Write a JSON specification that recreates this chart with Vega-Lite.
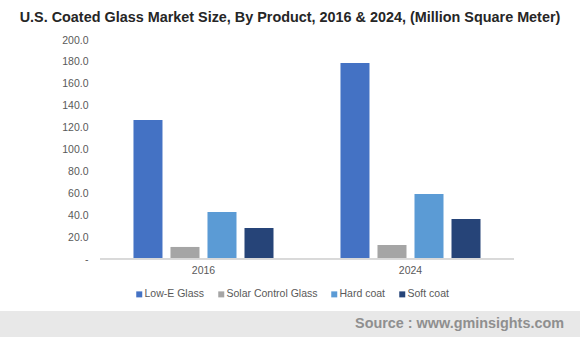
{
  "$schema": "https://vega.github.io/schema/vega-lite/v6.json",
  "padding": {"top": 9, "left": 0, "right": 0, "bottom": 0},
  "background": "white",
  "title": {
    "text": "U.S. Coated Glass Market Size, By Product, 2016 & 2024, (Million Square Meter)",
    "font": "Liberation Sans",
    "fontSize": 14.4,
    "fontWeight": "bold",
    "color": "#262626",
    "anchor": "middle",
    "offset": 10
  },
  "config": {
    "view": {"stroke": null},
    "font": "Liberation Sans"
  },
  "spacing": 11,
  "resolve": {"legend": {"color": "independent"}},
  "vconcat": [
    {
      "width": 514,
      "height": 219,
      "data": {
        "values": [
          {"year": "2016", "product": "Low-E Glass", "value": 127},
          {"year": "2016", "product": "Solar Control Glass", "value": 11},
          {"year": "2016", "product": "Hard coat", "value": 43},
          {"year": "2016", "product": "Soft coat", "value": 28.3},
          {"year": "2024", "product": "Low-E Glass", "value": 179},
          {"year": "2024", "product": "Solar Control Glass", "value": 12.8},
          {"year": "2024", "product": "Hard coat", "value": 59.4},
          {"year": "2024", "product": "Soft coat", "value": 36.5}
        ]
      },
      "layer": [
        {
          "mark": {"type": "bar"},
          "encoding": {
            "x": {
              "field": "year",
              "type": "nominal",
              "scale": {"paddingInner": 0, "paddingOuter": 0.2415, "align": 1},
              "axis": {
                "title": null,
                "labelAngle": 0,
                "labelAlign": "center",
                "bandPosition": 0.5,
                "ticks": false,
                "domain": false,
                "labelColor": "#595959",
                "labelFontSize": 10.5,
                "labelPadding": 6
              }
            },
            "xOffset": {
              "field": "product",
              "type": "nominal",
              "sort": ["Low-E Glass", "Solar Control Glass", "Hard coat", "Soft coat"],
              "scale": {"paddingInner": 0.216, "paddingOuter": 0.905}
            },
            "y": {
              "field": "value",
              "type": "quantitative",
              "scale": {"domain": [0, 200]},
              "axis": {
                "title": null,
                "values": [0, 20, 40, 60, 80, 100, 120, 140, 160, 180, 200],
                "labelExpr": "datum.value == 0 ? '-' : format(datum.value, '.1f')",
                "labelOverlap": false,
                "grid": false,
                "domain": false,
                "ticks": false,
                "offset": -100,
                "labelPadding": 12,
                "labelColor": "#595959",
                "labelFontSize": 10.5
              }
            },
            "color": {
              "field": "product",
              "type": "nominal",
              "sort": ["Low-E Glass", "Solar Control Glass", "Hard coat", "Soft coat"],
              "scale": {
                "domain": ["Low-E Glass", "Solar Control Glass", "Hard coat", "Soft coat"],
                "range": ["#4472C4", "#A5A5A5", "#5B9BD5", "#264478"]
              },
              "legend": {
                "orient": "none",
                "legendX": 134,
                "legendY": 249,
                "direction": "horizontal",
                "title": null,
                "symbolType": "square",
                "symbolSize": 36,
                "symbolStrokeWidth": 0,
                "labelFontSize": 10.5,
                "labelColor": "#595959",
                "columnPadding": 11,
                "labelOffset": 0
              }
            }
          }
        },
        {
          "mark": {"type": "rule", "color": "#d9d9d9", "strokeWidth": 1},
          "encoding": {
            "x": {
              "datum": "2016",
              "type": "nominal",
              "bandPosition": 0,
              "axis": {
                "title": null,
                "labelAngle": 0,
                "labelAlign": "center",
                "bandPosition": 0.5,
                "ticks": false,
                "domain": false,
                "labelColor": "#595959",
                "labelFontSize": 10.5,
                "labelPadding": 6
              }
            },
            "x2": {"value": "width"},
            "y": {
              "datum": 0,
              "type": "quantitative",
              "axis": {
                "title": null,
                "values": [0, 20, 40, 60, 80, 100, 120, 140, 160, 180, 200],
                "labelExpr": "datum.value == 0 ? '-' : format(datum.value, '.1f')",
                "labelOverlap": false,
                "grid": false,
                "domain": false,
                "ticks": false,
                "offset": -100,
                "labelPadding": 12,
                "labelColor": "#595959",
                "labelFontSize": 10.5
              }
            }
          }
        }
      ]
    },
    {
      "width": 580,
      "height": 26,
      "view": {"fill": "#e8e8e8", "stroke": null},
      "data": {"values": [{"source": "Source : www.gminsights.com"}]},
      "mark": {
        "type": "text",
        "align": "right",
        "baseline": "middle",
        "dx": -16,
        "fontSize": 14.4,
        "fontWeight": "bold",
        "color": "#8f8f8f"
      },
      "encoding": {
        "text": {"field": "source"},
        "x": {"value": "width"}
      }
    }
  ]
}
